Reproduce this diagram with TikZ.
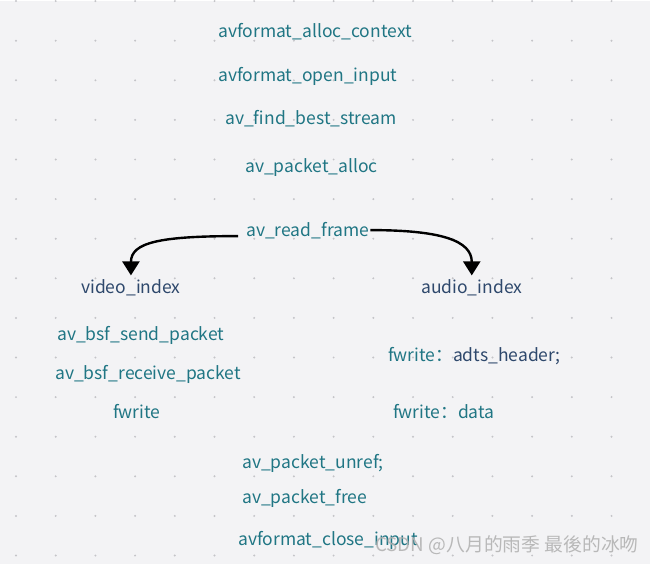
\documentclass[tikz,border=0pt]{standalone}
\usepackage{fontspec}
\setmainfont{Noto Sans CJK SC}
\usetikzlibrary{arrows.meta}

\definecolor{bgcol}{RGB}{243,243,245}
\definecolor{dotcol}{RGB}{196,196,200}
\definecolor{fncol}{RGB}{32,118,132}
\definecolor{idxcol}{RGB}{46,72,108}

\begin{document}
\begin{tikzpicture}[x=1pt,y=-1pt,
    fn/.style={anchor=west,text=fncol,font=\fontsize{17.5}{20}\selectfont,
        inner sep=0pt,text height=13pt,text depth=4pt},
    idx/.style={fn,text=idxcol},
    wmark/.style={anchor=west,text=white!70!black,opacity=0.9,
        font=\fontsize{18.8}{20}\selectfont,inner sep=0pt},
    flow/.style={-{Triangle[width=17pt,length=14pt]},line width=2.4pt,black}
]
    \fill[bgcol] (0,0) rectangle (650,563);
    \foreach \i in {0,...,15}
        \foreach \j in {0,...,14}
            \fill[dotcol] (16+39.7*\i,39.6*\j) circle (1.1);

    \node[fn] (ctx) at (218,32) {avformat\_alloc\_context};
    \node[fn] (open) at (218,76) {avformat\_open\_input};
    \node[fn] (best) at (225,119) {av\_find\_best\_stream};
    \node[fn] (palloc) at (245,167) {av\_packet\_alloc};
    \node[fn] (readframe) at (246,231) {av\_read\_frame};

    \node[idx] (video) at (81,287.5) {video\_index};
    \node[idx] (audio) at (421,287.5) {audio\_index};

    \node[fn] (send) at (57,335) {av\_bsf\_send\_packet};
    \node[fn] (recv) at (55,374) {av\_bsf\_receive\_packet};
    \node[fn] (vwrite) at (113,413) {fwrite};

    \node[fn] (header) at (388,356) {fwrite：\textcolor{idxcol}{adts\_header;}};
    \node[fn] (adata) at (393,413) {fwrite：data};

    \node[fn] (unref) at (242,463) {av\_packet\_unref;};
    \node[fn] (pfree) at (242,498) {av\_packet\_free};
    \node[fn] (close) at (238,540) {avformat\_close\_input};

    \draw[flow] ([xshift=-8pt,yshift=-4pt]readframe.west)
        .. controls +(-78,0) and +(0,-33) .. ([yshift=4.5pt]video.north);
    \draw[flow] ([xshift=1pt,yshift=2pt]readframe.east)
        .. controls +(70,0) and +(0,-35) .. ([yshift=4.5pt]audio.north);

    \node[wmark] (csdn) at (375,544) {CSDN @八月的雨季 最後的冰吻};
\end{tikzpicture}
\end{document}
